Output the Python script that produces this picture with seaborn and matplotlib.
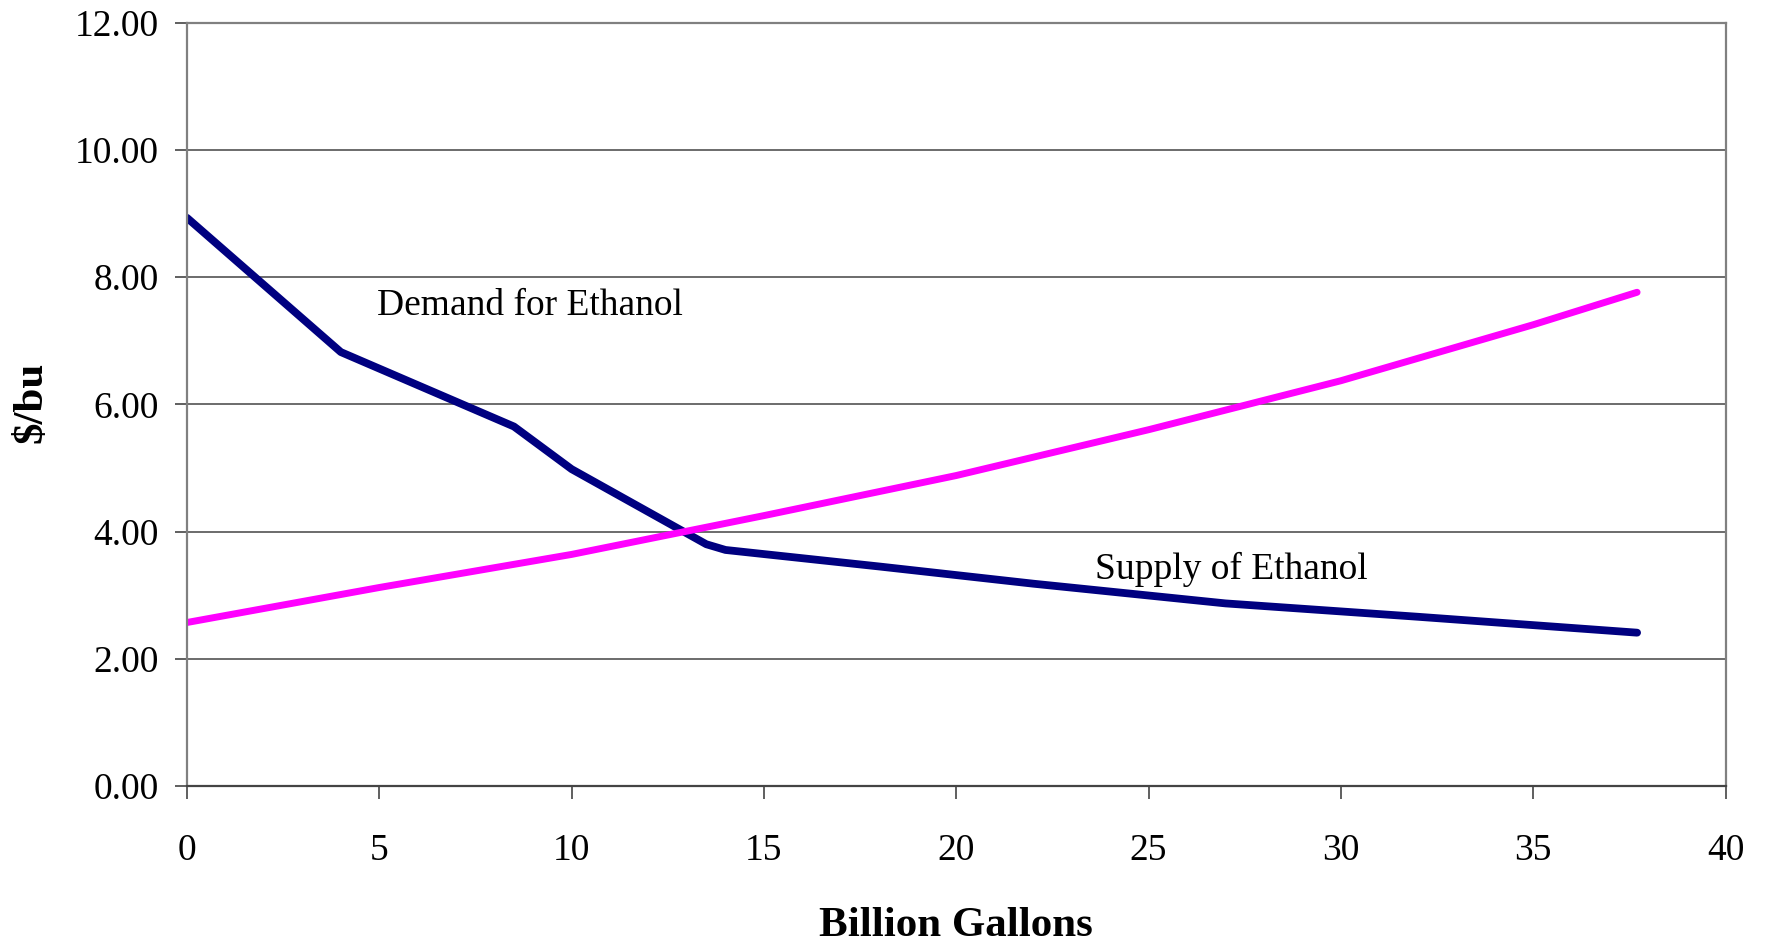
import matplotlib
matplotlib.use("Agg")
import matplotlib.pyplot as plt
import seaborn as sns
import pandas as pd

# Ethanol market: quantity (billion gallons) vs. price ($/bu)
demand_x = [0.0, 4.0, 8.5, 10.0, 13.5, 14.0, 18.0, 22.0, 27.0, 32.0, 37.7]
demand_y = [8.93, 6.82, 5.65, 4.98, 3.80, 3.71, 3.45, 3.18, 2.87, 2.66, 2.41]

supply_x = [0.0, 5.0, 10.0, 15.0, 20.0, 25.0, 30.0, 35.0, 37.7]
supply_y = [2.57, 3.12, 3.64, 4.25, 4.88, 5.60, 6.37, 7.25, 7.76]

x_ticks = [0, 5, 10, 15, 20, 25, 30, 35, 40]
y_ticks = [0, 2, 4, 6, 8, 10, 12]

demand = pd.DataFrame({"x": demand_x, "y": demand_y})
supply = pd.DataFrame({"x": supply_x, "y": supply_y})

sns.set_style("white")
plt.rcParams["font.family"] = ["Liberation Serif", "DejaVu Serif"]
plt.rcParams["text.color"] = "black"
plt.rcParams["axes.labelcolor"] = "black"
plt.rcParams["xtick.color"] = "black"
plt.rcParams["ytick.color"] = "black"

fig = plt.figure(figsize=(17.66, 9.42), dpi=100)
ax = fig.add_axes([0.1059, 0.1656, 0.9771 - 0.1059, 0.9761 - 0.1656])

# horizontal gridlines
for v in y_ticks[1:]:
    ax.axhline(v, color="#444444", lw=1.1, zorder=0)

sns.lineplot(data=demand, x="x", y="y", ax=ax, color="#000080", lw=5.6,
             sort=False, estimator=None)
sns.lineplot(data=supply, x="x", y="y", ax=ax, color="#FF00FF", lw=5.0,
             sort=False, estimator=None)

ax.set_xlim(0, 40)
ax.set_ylim(0, 12)
ax.set_xticks(x_ticks)
ax.set_yticks(y_ticks)
ax.set_xticklabels([str(t) for t in x_ticks])
ax.set_yticklabels([f"{t:.2f}" for t in y_ticks])

ax.tick_params(axis="x", direction="out", length=9, width=1.2, color="#444444",
               labelcolor="black", pad=25, labelsize=27, bottom=True)
ax.tick_params(axis="y", direction="out", length=8.5, width=1.2, color="#444444",
               labelcolor="black", pad=12, labelsize=27, left=True)

for side, sp in ax.spines.items():
    sp.set_visible(True)
    sp.set_color("#808080")
    sp.set_linewidth(1.6)
ax.spines["bottom"].set_color("#444444")

ax.set_xlabel("Billion Gallons", fontsize=31, fontweight="bold", va="center",
              color="black")
ax.xaxis.set_label_coords(0.5, -0.183)
ax.set_ylabel("\\$/bu", fontsize=31, fontweight="bold", va="center",
              color="black")
ax.yaxis.set_label_coords(-0.101, 0.502)

ax.text(4.95, 7.55, "Demand for Ethanol", fontsize=27, va="center", ha="left",
        color="black")
ax.text(23.6, 3.40, "Supply of Ethanol", fontsize=27, va="center", ha="left",
        color="black")

fig.savefig("out.png", dpi=100)
